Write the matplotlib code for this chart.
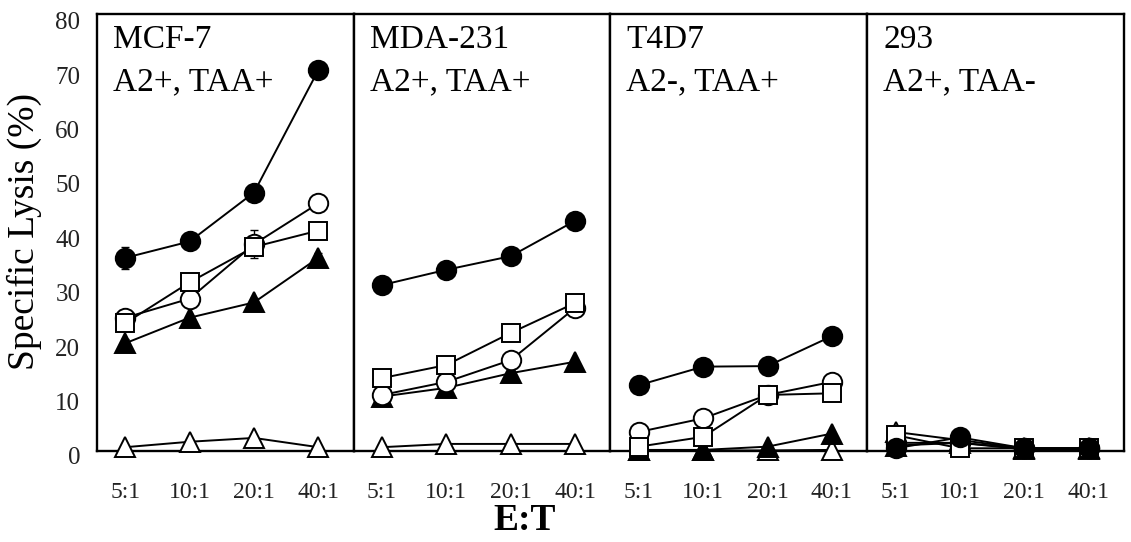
import numpy as np
import matplotlib
matplotlib.use('Agg')
import matplotlib.pyplot as plt
from matplotlib.transforms import ScaledTranslation

plt.rcParams['font.family'] = ['Liberation Serif', 'DejaVu Serif']

# E:T ratios
ratios = ['5:1', '10:1', '20:1', '40:1']
panels = ['MCF-7\nA2+, TAA+', 'MDA-231\nA2+, TAA+', 'T4D7\nA2-, TAA+', '293\nA2+, TAA-']

# specific lysis (%) per target, one list per marker series
open_tri = [[0.7, 1.7, 2.4, 0.7],
            [0.7, 1.3, 1.3, 1.3],
            [0.1, 0.1, 0.1, 0.2],
            [3.5, 2.0, 0.5, 0.5]]
filled_tri = [[19.8, 24.5, 27.3, 35.5],
              [10.0, 11.6, 14.3, 16.4],
              [0.2, 0.2, 0.8, 3.2],
              [1.0, 1.5, 0.3, 0.3]]
open_circ = [[24.5, 28.0, 38.0, 45.5],
             [10.3, 12.7, 16.7, 26.3],
             [3.5, 6.0, 10.3, 12.7],
             [1.5, 1.5, 0.5, 0.5]]
open_sq = [[23.5, 31.0, 37.5, 40.5],
           [13.4, 15.8, 21.7, 27.2],
           [0.8, 2.6, 10.3, 10.6],
           [2.9, 0.5, 0.5, 0.5]]
filled_circ = [[35.5, 38.5, 47.5, 70.0],
               [30.5, 33.3, 35.8, 42.3],
               [12.1, 15.5, 15.6, 21.1],
               [0.5, 2.5, 0.5, 0.5]]

# error bars (only visible on MCF-7)
err_filled_circ = [2.0, 0.8, 0.8, 0.8]
err_open_circ = [0.8, 0.8, 2.6, 0.8]
err_filled_tri = [0.8, 1.7, 0.8, 0.8]
err_open_sq = [0.8, 0.8, 0.8, 1.5]

W, H = 1131, 542
fig = plt.figure(figsize=(W / 100, H / 100), dpi=100)
axes = fig.subplots(1, 4, sharey=True)
fig.subplots_adjust(left=97 / W, right=1124 / W, top=1 - 14 / H, bottom=1 - 451 / H, wspace=0)

x = np.arange(len(ratios))
series = [
    (open_tri, '^', 'white', 14.5, None),
    (filled_tri, '^', 'black', 14.5, err_filled_tri),
    (open_circ, 'o', 'white', 14, err_open_circ),
    (open_sq, 's', 'white', 13, err_open_sq),
    (filled_circ, 'o', 'black', 14, err_filled_circ),
]

for i, ax in enumerate(axes):
    for data, mk, fc, ms, err in series:
        if err is not None and i == 0:
            ax.errorbar(x, data[i], yerr=err, fmt='none', ecolor='black',
                        elinewidth=1.0, capsize=3, capthick=1.0, zorder=2)
        ax.plot(x, data[i], color='black', lw=1.4, marker=mk, ms=ms,
                mfc=fc, mec='black', mew=1.4, clip_on=False, zorder=3)
    ax.set_xlim(-0.44, 3.55)
    ax.set_ylim(0, 80.3)
    ax.set_xticks(x)
    ax.set_xticklabels(ratios, fontsize=17, color='#222222')
    ax.tick_params(axis='x', length=0, pad=22)
    ax.tick_params(axis='y', length=0, pad=12, labelsize=18, labelcolor='#222222')
    for sp in ax.spines.values():
        sp.set_linewidth(1.7)
    name, sub = panels[i].split('\n')
    ax.text(0.062, 0.922, name, transform=ax.transAxes, fontsize=24, va='baseline')
    ax.text(0.062, 0.826, sub, transform=ax.transAxes, fontsize=24, va='baseline')

axes[0].set_yticks(np.arange(0, 81, 10))
# y tick labels sit a few pixels low in the original
shift = ScaledTranslation(0, -5 / 100, fig.dpi_scale_trans)
for lab in axes[0].get_yticklabels():
    lab.set_transform(lab.get_transform() + shift)

fig.text(24 / W, 1 - 231 / H, 'Specific Lysis (%)', rotation=90,
         ha='center', va='center', fontsize=27)
fig.text(525 / W, 1 - 520 / H, 'E:T', ha='center', va='center',
         fontsize=27, fontweight='bold')

fig.savefig('out.png', dpi=100)
